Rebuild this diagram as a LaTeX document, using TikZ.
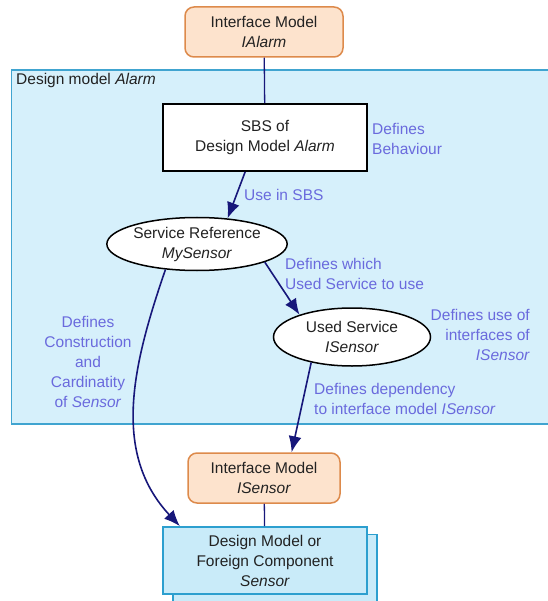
\documentclass[tikz,border=0pt]{standalone}
\usepackage{fontspec}
\setmainfont{Liberation Sans}
\usetikzlibrary{arrows.meta,shapes.geometric}
\definecolor{navy}{HTML}{17177A}
\definecolor{labelc}{HTML}{6A6ADD}
\definecolor{areafill}{HTML}{D6F0FB}
\definecolor{arealine}{HTML}{40A4D0}
\definecolor{ifill}{HTML}{FDE3CD}
\definecolor{iline}{HTML}{DD8A4B}
\definecolor{dmfill}{HTML}{C9EBF9}
\definecolor{dmline}{HTML}{2C9FCF}
\definecolor{textc}{HTML}{222222}

\begin{document}
\begin{tikzpicture}[x=1pt,y=-1pt,font=\fontsize{15.5}{20}\selectfont,>={Latex[length=16pt,width=13pt]}]
  \def\ww{204}
  \def\hh{67}

\tikzstyle{area}=[rectangle,draw=arealine,fill=areafill,line width=1.5pt,inner sep=0pt]
\tikzstyle{iface}=[rectangle,rounded corners=9pt,draw=iline,fill=ifill,line width=1.5pt,text=textc,align=center,minimum width=158pt,minimum height=50pt,inner sep=0pt]
\tikzstyle{sbsbox}=[rectangle,draw=black,fill=white,line width=1.8pt,text=textc,align=center,minimum width=\ww pt,minimum height=\hh pt,inner sep=0pt]
\tikzstyle{svc}=[ellipse,draw=black,fill=white,line width=1.5pt,text=textc,align=center,inner sep=0pt]
\tikzstyle{dmbox}=[rectangle,draw=dmline,fill=dmfill,line width=1.8pt,text=textc,align=center,minimum width=\ww pt,minimum height=\hh pt,inner sep=0pt]
\tikzstyle{lbl}=[text=labelc,inner sep=0pt]
\tikzstyle{conn}=[draw=navy,line width=1.6pt]

\useasboundingbox (0,0) rectangle (547,601);
% design model area
\node[area][minimum width=545pt,minimum height=354pt] (A) at (284,247) {};
\node[lbl][anchor=west,text=textc] (Atitle) at (16,80) {Design model \textit{Alarm}};

\node[iface][] (I1) at (264,32) {Interface Model\\\textit{IAlarm}};
\node[sbsbox][] (S) at (265,137.5) {SBS of\\Design Model \textit{Alarm}};
\node[svc][minimum width=160pt,minimum height=53pt] (R) at (197,244) {Service Reference\\\textit{MySensor}};
\node[svc][minimum width=157pt,minimum height=58pt] (U) at (352,337) {Used Service\\\textit{ISensor}};
\node[iface][minimum width=152pt] (I2) at (264,478) {Interface Model\\\textit{ISensor}};
\node[dmbox][] (D2) at (275,568) {};
\node[dmbox][] (D1) at (265,560.5) {Design Model or\\Foreign Component\\\textit{Sensor}};

\node[lbl][anchor=west,align=left] (L1) at (372,139) {Defines\\Behaviour};
\node[lbl][anchor=west] (L2) at (244,195) {Use in SBS};
\node[lbl][anchor=west,align=left] (L3) at (285,274) {Defines which\\Used Service to use};
\node[lbl][anchor=east,align=right] (L4) at (530,335) {Defines use of\\interfaces of\\\textit{ISensor}};
\node[lbl][anchor=west,align=left] (L5) at (314,399) {Defines dependency\\to interface model \textit{ISensor}};
\node[lbl][align=center] (L6) at (88,362) {Defines\\Construction\\and\\Cardinatity\\of \textit{Sensor}};

\draw[conn,line width=1.3pt] (I1) -- (S);
\draw[conn,->] (S.240) -- (R.40);
\draw[conn,->] (R.-15) -- (U.157);
\draw[conn,->] (U.212) -- (I2.43);
\draw[conn,->] (R.219) to[out=251,in=133] (D1.158);
\draw[conn,line width=1.3pt] (I2) -- (D1);
\end{tikzpicture}
\end{document}
